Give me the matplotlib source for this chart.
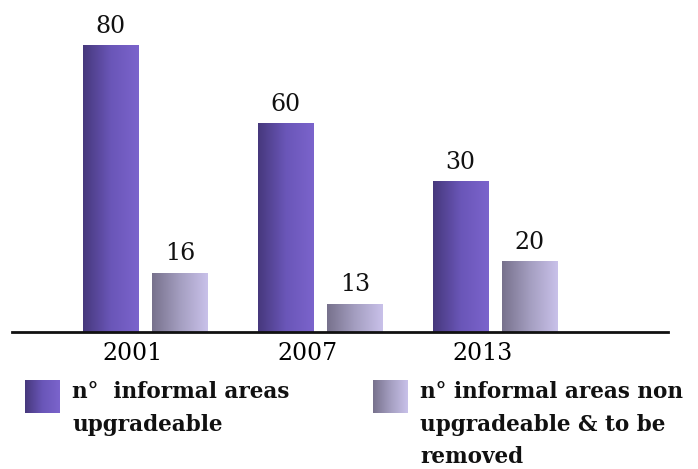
import numpy as np
import matplotlib
matplotlib.use("Agg")
import matplotlib.pyplot as plt
from matplotlib.colors import LinearSegmentedColormap

# ---- data ----
years = ["2001", "2007", "2013"]
series_names = ["n°  informal areas\nupgradeable",
                "n° informal areas non\nupgradeable & to be\nremoved"]
labels_upgradeable = [80, 60, 30]
labels_removed = [16, 13, 20]
# bar heights as drawn in the reference (not proportional to the labels)
heights_upgradeable = [80, 58.2, 42.0]
heights_removed = [16.5, 7.8, 19.6]

# ---- style ----
cmap1 = LinearSegmentedColormap.from_list("c1", ["#46387c", "#6a56b8", "#7b64cc"])
cmap2 = LinearSegmentedColormap.from_list("c2", ["#77718c", "#a49ec0", "#c9c1ea"])
font = "DejaVu Serif"

fig = plt.figure(figsize=(6.98, 4.69), dpi=100)
W, H = 698, 469
base_px = 332
top_px = 10.25
ax = fig.add_axes([12 / W, (H - base_px) / H, (668 - 12) / W, (base_px - top_px) / H])
for s in ["top", "right", "left"]:
    ax.spines[s].set_visible(False)
ax.spines["bottom"].set_linewidth(2.0)
ax.spines["bottom"].set_color("#111111")
ax.set_yticks([])

x = np.arange(len(years))
bw = 0.315
off1, off2 = -0.195, 0.2
grad = np.linspace(0, 1, 256).reshape(1, -1)

def draw(xc, h, cmap, lab):
    ax.imshow(grad, cmap=cmap, aspect="auto", extent=(xc - bw / 2, xc + bw / 2, 0, h),
              zorder=2, interpolation="bilinear")
    ax.text(xc, h + 2.3, str(lab), ha="center", va="bottom", fontsize=17,
            family=font, color="#111111")

for i in range(len(years)):
    draw(x[i] + off1, heights_upgradeable[i], cmap1, labels_upgradeable[i])
    draw(x[i] + off2, heights_removed[i], cmap2, labels_removed[i])
ax.set_xlim(-0.76, 2.99)
ax.set_ylim(0, 90)

ax.set_xticks(x - 0.07)
ax.set_xticklabels(years, family=font, fontsize=17)
ax.tick_params(axis="x", length=0, pad=7)

# ---- legend ----
def legend_item(x0, text, cmap):
    lax = fig.add_axes([x0 / W, (H - 413) / H, 35 / W, 33 / H])
    lax.imshow(grad, cmap=cmap, aspect="auto", interpolation="bilinear")
    lax.axis("off")
    fig.text((x0 + 47) / W, (H - 381) / H, text, ha="left", va="top", fontsize=15.5,
             family=font, fontweight="bold", linespacing=1.62, color="#111111")

legend_item(25, series_names[0], cmap1)
legend_item(373, series_names[1], cmap2)

fig.savefig("out.png", dpi=100)
